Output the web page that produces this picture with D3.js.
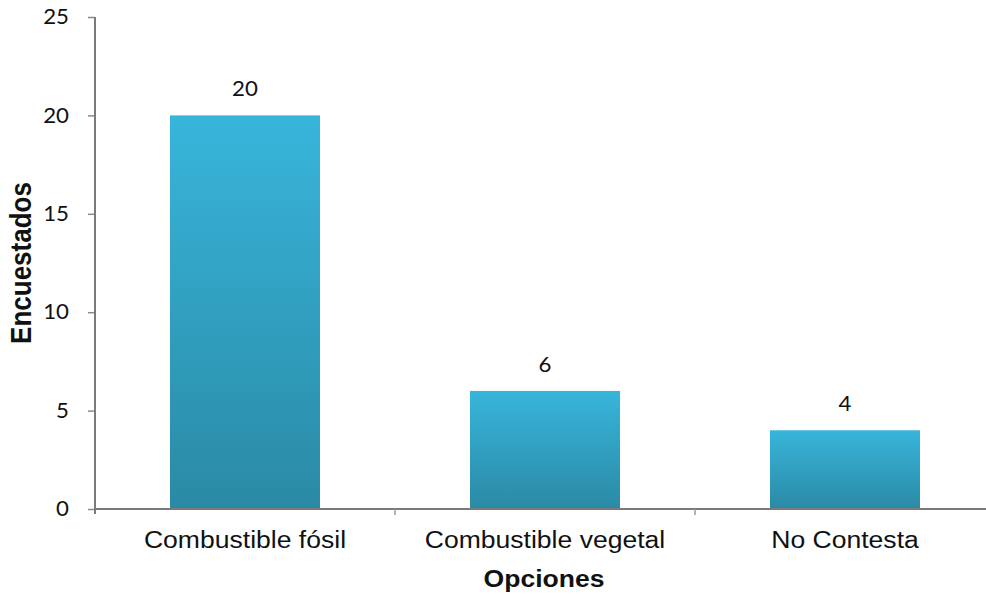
<!DOCTYPE html>
<html>
<head>
<meta charset="utf-8">
<script src="https://cdn.jsdelivr.net/npm/d3@7"></script>
<style>
  html, body { margin: 0; padding: 0; background: #fff; }
  svg { display: block; }
</style>
</head>
<body>
<div id="chart"></div>
<script>
// Survey answers: fuel type chosen by respondents
const categories = ["Combustible fósil", "Combustible vegetal", "No Contesta"];
const counts = [20, 6, 4];
const yTicks = [0, 5, 10, 15, 20, 25];
const xTitle = "Opciones";
const yTitle = "Encuestados";

const W = 986, H = 595;
const plotLeft = 95, plotBottom = 509, plotTop = 17, plotRight = 995;
const SX = 1.13; // horizontal widening of the lettering

const svg = d3.select("#chart").append("svg")
  .attr("width", W).attr("height", H);

const defs = svg.append("defs");
const grad = defs.append("linearGradient")
  .attr("id", "barFill").attr("x1", 0).attr("y1", 0).attr("x2", 0).attr("y2", 1);
grad.append("stop").attr("offset", "0%").attr("stop-color", "#38b5db");
grad.append("stop").attr("offset", "100%").attr("stop-color", "#2a8aa5");

const x = d3.scaleBand().domain(categories).range([plotLeft, plotRight])
  .paddingInner(0.5).paddingOuter(0.25);
const y = d3.scaleLinear().domain([0, 25]).range([plotBottom, plotTop]);

// Bars
svg.append("g").selectAll("rect").data(categories).join("rect")
  .attr("x", d => x(d))
  .attr("y", (d, i) => y(counts[i]))
  .attr("width", x.bandwidth())
  .attr("height", (d, i) => y(0) - y(counts[i]))
  .attr("fill", "url(#barFill)");

// Value labels
svg.append("g").selectAll("text").data(categories).join("text")
  .attr("transform", (d, i) => `translate(${x(d) + x.bandwidth() / 2},${y(counts[i]) - 19}) scale(1.06,1)`)
  .attr("text-anchor", "middle")
  .attr("font-family", "Lato, 'Open Sans', sans-serif")
  .attr("font-size", 21)
  .attr("fill", "#111")
  .text((d, i) => counts[i]);

// Y axis
const yAxis = d3.axisLeft(y).tickValues(yTicks).tickSizeInner(7).tickSizeOuter(0).tickPadding(19);
const gy = svg.append("g").attr("transform", `translate(${plotLeft},0)`).call(yAxis);
gy.select(".domain").remove();
gy.selectAll(".tick line").attr("stroke", "#8a8a8a").attr("stroke-width", 1.5);
gy.selectAll(".tick text")
  .attr("x", -26 / 1.06)
  .attr("transform", "scale(1.06,1)")
  .attr("font-family", "Lato, 'Open Sans', sans-serif")
  .attr("font-size", 21).attr("fill", "#111");
gy.append("line")
  .attr("x1", 0).attr("x2", 0).attr("y1", y(25)).attr("y2", plotBottom + 5)
  .attr("stroke", "#7a7a7a").attr("stroke-width", 2);

// X axis
const xAxis = d3.axisBottom(x).tickSize(0).tickPadding(22);
const gx = svg.append("g").attr("transform", `translate(0,${plotBottom})`).call(xAxis);
gx.select(".domain").remove();
gx.append("line").attr("x1", plotLeft).attr("x2", plotRight).attr("y1", 0).attr("y2", 0)
  .attr("stroke", "#7a7a7a").attr("stroke-width", 2);
gx.selectAll(".tick text")
  .attr("transform", `scale(${SX},1)`)
  .attr("font-family", "'Liberation Sans', Arial, sans-serif")
  .attr("font-size", 23.5).attr("fill", "#111");
// separators between categories
const step = x.step();
gx.append("g").selectAll("line").data(categories.slice(0, -1)).join("line")
  .attr("x1", d => x(d) + x.bandwidth() + step * x.paddingInner() / 2)
  .attr("x2", d => x(d) + x.bandwidth() + step * x.paddingInner() / 2)
  .attr("y1", 0).attr("y2", 6)
  .attr("stroke", "#9a9a9a").attr("stroke-width", 1.5);

// Axis titles
svg.append("text")
  .attr("transform", `translate(${(plotLeft + plotRight) / 2 - 1},587) scale(${SX},1)`)
  .attr("text-anchor", "middle")
  .attr("font-family", "'Liberation Sans', Arial, sans-serif")
  .attr("font-weight", "bold").attr("font-size", 23.5).attr("fill", "#111")
  .text(xTitle);

svg.append("text")
  .attr("transform", `translate(31,263) rotate(-90) scale(1,${SX})`)
  .attr("text-anchor", "middle")
  .attr("font-family", "'Liberation Sans', Arial, sans-serif")
  .attr("font-weight", "bold").attr("font-size", 26).attr("fill", "#111")
  .text(yTitle);
</script>
</body>
</html>
